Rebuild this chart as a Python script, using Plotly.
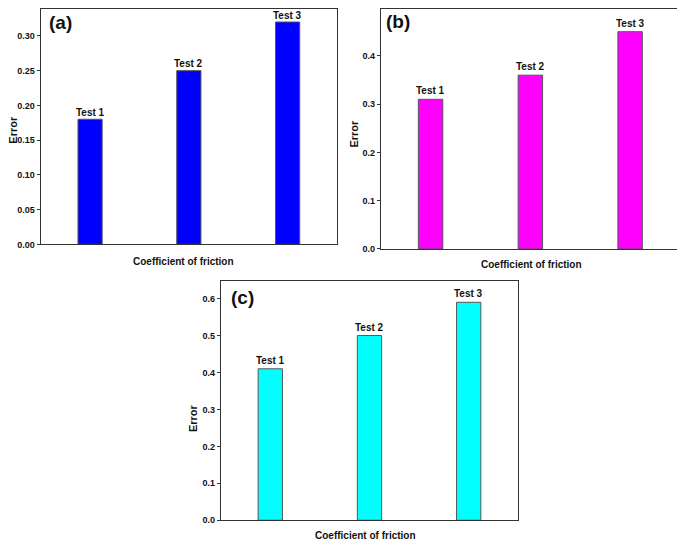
import plotly.graph_objects as go

tests = ["Test 1", "Test 2", "Test 3"]
x_pos = [1, 3, 5]
err_a = [0.18, 0.25, 0.32]
err_b = [0.31, 0.36, 0.45]
err_c = [0.41, 0.50, 0.59]
colors = ["#0000FF", "#FF00FF", "#00FFFF"]
panel_labels = ["(a)", "(b)", "(c)"]
yticks_a = [0.00, 0.05, 0.10, 0.15, 0.20, 0.25, 0.30]
yticks_b = [0.0, 0.1, 0.2, 0.3, 0.4, 0.5]
yticks_c = [0.0, 0.1, 0.2, 0.3, 0.4, 0.5, 0.6]
x_title = "Coefficient of friction"
y_title = "Error"

# page body has an 8px default margin; the figure fills the rest of the window
OFF = 8
W, H = 685 - OFF, 547 - OFF
FONT = "Liberation Sans, Arial, sans-serif"


def px(x):
    return min(max((x - OFF) / W, 0), 1)


def py(y):
    return min(max(1 - (y - OFF) / H, 0), 1)


fig = go.Figure()

panels = [
    dict(vals=err_a, color=colors[0], xd=[40.7, 337], yd=[8.5, 246], yr=[0, 0.338], ticks=yticks_a,
         fmt=".2f", ax="", label=panel_labels[0], xt=(184, 263), yt=(13.5, 130.5), pl=(47, 22), ys=7),
    dict(vals=err_b, color=colors[1], xd=[380.7, 680], yd=[8.5, 250.7], yr=[0, 0.496], ticks=yticks_b,
         fmt=".1f", ax="2", label=panel_labels[1], xt=(531.5, 266.7), yt=(354, 134), pl=(384, 21), ys=8.5),
    dict(vals=err_c, color=colors[2], xd=[220.7, 518.3], yd=[283.3, 525], yr=[0, 0.647], ticks=yticks_c,
         fmt=".1f", ax="3", label=panel_labels[2], xt=(365.7, 540.5), yt=(193, 421.7), pl=(229, 300), ys=8.5),
]

annotations = []
for p in panels:
    fig.add_trace(go.Bar(
        x=x_pos, y=p["vals"], width=0.49,
        marker=dict(color=p["color"], line=dict(color="#555555", width=1)),
        xaxis="x" + p["ax"], yaxis="y" + p["ax"], showlegend=False,
    ))
    x0, x1 = px(p["xd"][0]), px(p["xd"][1])
    y0, y1 = py(p["yd"][1]), py(p["yd"][0])
    axis_common = dict(showline=True, mirror=True, linecolor="#333333", linewidth=1,
                       showgrid=False, zeroline=False)
    fig.update_layout(**{
        "xaxis" + p["ax"]: dict(domain=[x0, x1], range=[0, 6], showticklabels=False,
                                ticks="", anchor="y" + p["ax"], **axis_common),
        "yaxis" + p["ax"]: dict(domain=[y0, y1], range=p["yr"], tickvals=p["ticks"],
                                tickformat=p["fmt"], ticks="outside", ticklen=3,
                                tickcolor="#333333",
                                tickfont=dict(family=FONT, size=9, color="#111111", weight="bold"),
                                anchor="x" + p["ax"], **axis_common),
    })
    for xv, yv, t in zip(x_pos, p["vals"], tests):
        annotations.append(dict(text="<b>" + t + "</b>", x=xv, y=yv,
                                xref="x" + p["ax"], yref="y" + p["ax"],
                                showarrow=False, xanchor="center", yanchor="middle",
                                yshift=p["ys"],
                                font=dict(family=FONT, size=10, color="#111111")))
    annotations.append(dict(text="<b>" + x_title + "</b>", x=px(p["xt"][0]), y=py(p["xt"][1]),
                            xref="paper", yref="paper",
                            showarrow=False, xanchor="center", yanchor="middle",
                            font=dict(family=FONT, size=10, color="#111111")))
    annotations.append(dict(text="<b>" + y_title + "</b>", x=px(p["yt"][0]), y=py(p["yt"][1]),
                            xref="paper", yref="paper", textangle=-90,
                            showarrow=False, xanchor="center", yanchor="middle",
                            font=dict(family=FONT, size=11, color="#111111")))
    annotations.append(dict(text="<b>" + p["label"] + "</b>", x=px(p["pl"][0]), y=py(p["pl"][1]),
                            xref="paper", yref="paper", showarrow=False,
                            xanchor="left", yanchor="middle",
                            font=dict(family=FONT, size=19, color="#111111")))

fig.update_layout(
    width=W, height=H, margin=dict(l=0, r=0, t=0, b=0),
    paper_bgcolor="white", plot_bgcolor="white",
    annotations=annotations, font=dict(family=FONT),
)

fig.write_html("out.html")
